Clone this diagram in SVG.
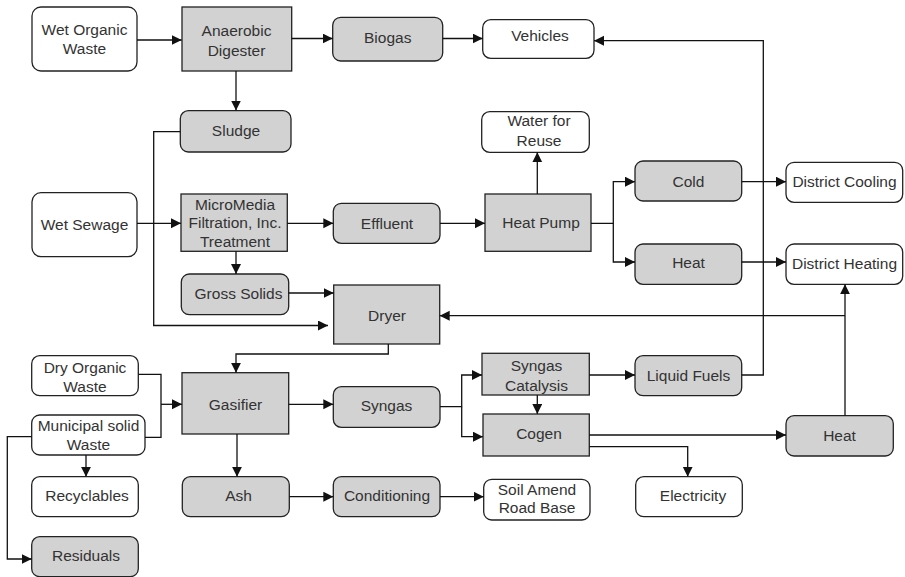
<svg xmlns="http://www.w3.org/2000/svg" width="905" height="577" viewBox="0 0 905 577">
  <style>
    .box { stroke: #222; stroke-width: 1.3; }
    .proc { fill: #d2d2d2; }
    .out { fill: #ffffff; }
    text { font-family: "Liberation Sans", Arial, sans-serif; font-size: 15.5px; fill: #333; text-anchor: middle; dominant-baseline: central; }
    .wire { fill: none; stroke: #111; stroke-width: 1.3; }
  </style>
  <defs>
    <marker id="arrow" markerUnits="userSpaceOnUse" markerWidth="11" markerHeight="11" refX="10" refY="5" orient="auto">
      <path d="M0,0 L10,5 L0,10 z" fill="#111"/>
    </marker>
  </defs>
  <rect width="905" height="577" fill="#fff"/>

  <!-- nodes -->
  <g id="wet-organic-waste"><rect class="box out" x="32" y="7" width="105" height="64" rx="9"/><text x="84.5" y="29.3">Wet Organic</text><text x="84.5" y="48.3">Waste</text></g>
  <g id="anaerobic-digester"><rect class="box proc" x="182" y="7" width="109.7" height="64"/><text x="236.5" y="30">Anaerobic</text><text x="236.5" y="50">Digester</text></g>
  <g id="biogas"><rect class="box proc" x="332.7" y="17.3" width="110" height="43.7" rx="8"/><text x="387.7" y="37.7">Biogas</text></g>
  <g id="vehicles"><rect class="box out" x="482.7" y="19.7" width="111.3" height="38.6" rx="8"/><text x="540" y="35.7">Vehicles</text></g>
  <g id="sludge"><rect class="box proc" x="180.3" y="110.7" width="110.7" height="41.3" rx="8"/><text x="236" y="130.7">Sludge</text></g>
  <g id="water-for-reuse"><rect class="box out" x="481.7" y="111.7" width="107.6" height="40.6" rx="8"/><text x="539" y="120.7">Water for</text><text x="539" y="140">Reuse</text></g>
  <g id="cold"><rect class="box proc" x="635" y="161" width="106.7" height="40" rx="8"/><text x="688.5" y="181.7">Cold</text></g>
  <g id="district-cooling"><rect class="box out" x="786" y="162.3" width="116.7" height="40" rx="8"/><text x="844.5" y="181">District Cooling</text></g>
  <g id="wet-sewage"><rect class="box out" x="32" y="192.7" width="105" height="64" rx="9"/><text x="84.5" y="224.3">Wet Sewage</text></g>
  <g id="micromedia-treatment"><rect class="box proc" x="181" y="194" width="106.3" height="57.3"/><text x="235" y="204">MicroMedia</text><text x="235" y="222.7">Filtration, Inc.</text><text x="235" y="241.7">Treatment</text></g>
  <g id="effluent"><rect class="box proc" x="333.3" y="203.3" width="106.7" height="40" rx="8"/><text x="387" y="223.3">Effluent</text></g>
  <g id="heat-pump"><rect class="box proc" x="485" y="194" width="106" height="57.3"/><text x="541" y="222.7">Heat Pump</text></g>
  <g id="heat-upper"><rect class="box proc" x="635" y="244" width="106.7" height="40.3" rx="8"/><text x="688.5" y="262.7">Heat</text></g>
  <g id="district-heating"><rect class="box out" x="786" y="244" width="116.7" height="40.3" rx="8"/><text x="844.5" y="263.3">District Heating</text></g>
  <g id="gross-solids"><rect class="box proc" x="181.3" y="274" width="107.4" height="40.7" rx="8"/><text x="238.5" y="293.7">Gross Solids</text></g>
  <g id="dryer"><rect class="box proc" x="333.7" y="285" width="106" height="59"/><text x="387" y="315">Dryer</text></g>
  <g id="dry-organic-waste"><rect class="box out" x="31.7" y="355.7" width="106.6" height="40" rx="8"/><text x="85" y="367.7">Dry Organic</text><text x="85" y="386">Waste</text></g>
  <g id="syngas-catalysis"><rect class="box proc" x="482" y="353.3" width="107.3" height="41.7"/><text x="536.5" y="365.7">Syngas</text><text x="536.5" y="385">Catalysis</text></g>
  <g id="liquid-fuels"><rect class="box proc" x="635" y="355.7" width="106.7" height="40" rx="8"/><text x="688.5" y="375">Liquid Fuels</text></g>
  <g id="gasifier"><rect class="box proc" x="182" y="372.7" width="106.7" height="61.3"/><text x="235.5" y="404.3">Gasifier</text></g>
  <g id="syngas"><rect class="box proc" x="333.3" y="386.7" width="106.7" height="40.6" rx="8"/><text x="386.5" y="405">Syngas</text></g>
  <g id="municipal-solid-waste"><rect class="box out" x="31.7" y="415" width="113.3" height="40" rx="8"/><text x="88.5" y="425.7">Municipal solid</text><text x="88.5" y="444.3">Waste</text></g>
  <g id="cogen"><rect class="box proc" x="483" y="414" width="106.3" height="42"/><text x="539" y="433.3">Cogen</text></g>
  <g id="heat-lower"><rect class="box proc" x="786" y="415.7" width="107.3" height="40.3" rx="8"/><text x="839.5" y="435.7">Heat</text></g>
  <g id="recyclables"><rect class="box out" x="31.7" y="476.7" width="106.6" height="40" rx="8"/><text x="87" y="495">Recyclables</text></g>
  <g id="ash"><rect class="box proc" x="182.3" y="476.7" width="107" height="40" rx="8"/><text x="238.5" y="495.7">Ash</text></g>
  <g id="conditioning"><rect class="box proc" x="333.3" y="476.7" width="106.7" height="40" rx="8"/><text x="387" y="495.7">Conditioning</text></g>
  <g id="soil-amend-road-base"><rect class="box out" x="483.7" y="479.3" width="106.3" height="40.7" rx="8"/><text x="537" y="489">Soil Amend</text><text x="537" y="507.7">Road Base</text></g>
  <g id="electricity"><rect class="box out" x="635.7" y="476.7" width="106.6" height="40" rx="8"/><text x="693" y="495">Electricity</text></g>
  <g id="residuals"><rect class="box proc" x="31.7" y="536.7" width="106.6" height="40" rx="8"/><text x="86" y="555.7">Residuals</text></g>

  <!-- connectors -->
  <g id="connectors">
    <path class="wire" marker-end="url(#arrow)" d="M137,40 H181.7"/>
    <path class="wire" marker-end="url(#arrow)" d="M236,71 V110.5"/>
    <path class="wire" marker-end="url(#arrow)" d="M291.7,38.5 H332.7"/>
    <path class="wire" marker-end="url(#arrow)" d="M442.7,38.5 H482.7"/>
    <path class="wire" marker-end="url(#arrow)" d="M741.7,375 H763.3 V40.7 H594"/>
    <path class="wire" marker-end="url(#arrow)" d="M180.3,131.7 H153.7 V325.5 H328"/>
    <path class="wire" marker-end="url(#arrow)" d="M137,223.3 H181"/>
    <path class="wire" marker-end="url(#arrow)" d="M287.3,223.3 H333.3"/>
    <path class="wire" marker-end="url(#arrow)" d="M440,223.3 H485"/>
    <path class="wire" marker-end="url(#arrow)" d="M537.3,194 V152.3"/>
    <path class="wire" marker-end="url(#arrow)" d="M591,223.3 H613.3 V181.7 H635"/>
    <path class="wire" marker-end="url(#arrow)" d="M613.3,223.3 V262 H635"/>
    <path class="wire" marker-end="url(#arrow)" d="M741.7,181.7 H786"/>
    <path class="wire" marker-end="url(#arrow)" d="M741.7,262 H786"/>
    <path class="wire" marker-end="url(#arrow)" d="M236,251.3 V274"/>
    <path class="wire" marker-end="url(#arrow)" d="M288.7,293 H333.7"/>
    <path class="wire" marker-end="url(#arrow)" d="M845,415.7 V284.3"/>
    <path class="wire" marker-end="url(#arrow)" d="M845,315.7 H439.7"/>
    <path class="wire" marker-end="url(#arrow)" d="M388.3,344 V354 H236 V372.7"/>
    <path class="wire" d="M138.3,374.3 H161 V437.3 H145"/>
    <path class="wire" marker-end="url(#arrow)" d="M161,404.3 H182"/>
    <path class="wire" marker-end="url(#arrow)" d="M86,455 V476.7"/>
    <path class="wire" marker-end="url(#arrow)" d="M31.7,436.7 H7.3 V559 H31.7"/>
    <path class="wire" marker-end="url(#arrow)" d="M237,434 V476.7"/>
    <path class="wire" marker-end="url(#arrow)" d="M288.7,404.3 H333.3"/>
    <path class="wire" marker-end="url(#arrow)" d="M289.3,496.7 H333.3"/>
    <path class="wire" marker-end="url(#arrow)" d="M440,496.7 H483.7"/>
    <path class="wire" marker-end="url(#arrow)" d="M440,406.7 H461.7 V375 H482"/>
    <path class="wire" marker-end="url(#arrow)" d="M461.7,406.7 V436.7 H483"/>
    <path class="wire" marker-end="url(#arrow)" d="M537.3,395 V414"/>
    <path class="wire" marker-end="url(#arrow)" d="M589.3,375 H635"/>
    <path class="wire" marker-end="url(#arrow)" d="M589.3,435 H786"/>
    <path class="wire" marker-end="url(#arrow)" d="M589.3,446.7 H687.7 V476.7"/>
  </g>
</svg>
